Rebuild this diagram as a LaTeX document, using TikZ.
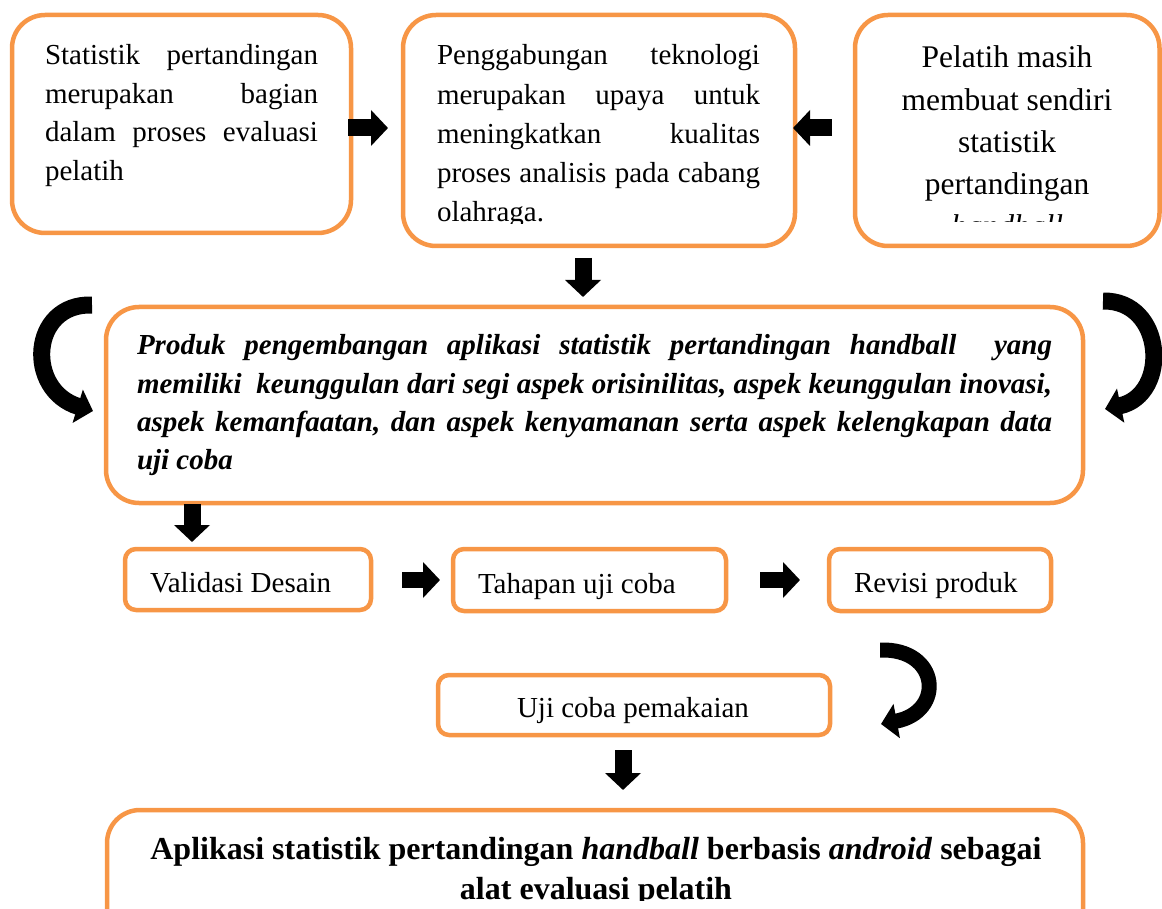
\documentclass[tikz,border=0pt]{standalone}
\usepackage{fontspec}
\setmainfont{Liberation Serif}
\usetikzlibrary{arrows.meta}
\definecolor{boxorange}{HTML}{F79646}
\newcommand{\jsp}{\hskip 0.25em plus 1fil minus 0.08em}
\tikzset{
  box/.style={draw=boxorange, line width=4.5pt, rounded corners=33pt, inner sep=0pt, fill=white},
  smallbox/.style={box, rounded corners=11pt},
  blockarrow/.style={line width=17pt, -{Triangle[length=17pt,width=35pt]}},
  curvearrow/.style={line width=17pt, -{Triangle[length=16pt,width=34pt]}},
  txt/.style={inner sep=0pt, outer sep=0pt, anchor=base west, font=\fontsize{29}{38.5}\selectfont}
}
\begin{document}
\begin{tikzpicture}[x=1pt,y=-1pt]
\useasboundingbox (0,0) rectangle (1162,909);

% boxes
\node[box, minimum width=339pt, minimum height=218pt] (b1) at (181.5,124) {};
\node[box, minimum width=392pt, minimum height=231pt] (b2) at (599,130.5) {};
\node[box, minimum width=304.5pt, minimum height=231pt] (b3) at (1007.25,130.5) {};
\node[box, minimum width=977pt, minimum height=196pt] (main) at (594.5,405) {};
\node[smallbox, minimum width=246pt, minimum height=61pt] (val) at (248,579.5) {};
\node[smallbox, minimum width=273pt, minimum height=62pt] (tah) at (589.5,580) {};
\node[smallbox, minimum width=222pt, minimum height=62pt] (rev) at (940,580) {};
\node[smallbox, minimum width=392pt, minimum height=60pt] (uji) at (634,705) {};
\node[box, minimum width=976pt, minimum height=150pt] (fin) at (595,885) {};

% texts
\node[txt] (t1) at (45,65) {\vtop{%
  \hbox to 273pt{Statistik\jsp pertandingan}
  \hbox to 273pt{merupakan\jsp bagian}
  \hbox to 273pt{dalam\jsp proses\jsp evaluasi}
  \hbox{pelatih}}};

\begin{scope}
\clip (400,0) rectangle (800,224);
\node[txt, font=\fontsize{29}{39.2}\selectfont] (t2) at (437,65) {\vtop{%
  \hbox to 323pt{Penggabungan\jsp teknologi}
  \hbox to 323pt{merupakan\jsp upaya\jsp untuk}
  \hbox to 323pt{meningkatkan\jsp kualitas}
  \hbox to 323pt{proses\jsp analisis\jsp pada\jsp cabang}
  \hbox{olahraga.}}};
\end{scope}

\begin{scope}
\clip (850,0) rectangle (1162,222);
\node[txt, anchor=base, font=\fontsize{31.5}{42.25}\selectfont] (t3) at (1007,68) {\vtop{%
  \hbox to 290pt{\hfil Pelatih masih\hfil}
  \hbox to 290pt{\hfil membuat sendiri\hfil}
  \hbox to 290pt{\hfil statistik\hfil}
  \hbox to 290pt{\hfil pertandingan\hfil}
  \hbox to 290pt{\hfil\itshape handball\hfil}}};
\end{scope}

\node[txt, font=\fontsize{29}{38.3}\selectfont\bfseries\itshape] (tm) at (137,355) {\vtop{%
  \hbox to 915pt{Produk\jsp pengembangan\jsp aplikasi\jsp statistik\jsp pertandingan\jsp handball\jsp\jsp yang}
  \hbox to 915pt{memiliki\jsp\jsp keunggulan\jsp dari\jsp segi\jsp aspek\jsp orisinilitas,\jsp aspek\jsp keunggulan\jsp inovasi,}
  \hbox to 915pt{aspek\jsp kemanfaatan,\jsp dan\jsp aspek\jsp kenyamanan\jsp serta\jsp aspek\jsp kelengkapan\jsp data}
  \hbox{uji coba}}};

\node[txt] (tval) at (150,592) {Validasi Desain};
\node[txt] (ttah) at (478,593) {Tahapan uji coba};
\node[txt] (trev) at (854,592) {Revisi produk};
\node[txt, anchor=base] (tuji) at (633,717) {Uji coba pemakaian};

\begin{scope}
\clip (100,800) rectangle (1100,900);
\node[txt, anchor=base, font=\fontsize{32}{40}\selectfont\bfseries] (tfin) at (596,859) {\vtop{%
  \hbox to 960pt{\hfil Aplikasi statistik pertandingan \textit{handball} berbasis \textit{android} sebagai\hfil}
  \hbox to 960pt{\hfil alat evaluasi pelatih\hfil}}};
\end{scope}

% block arrows
\coordinate (a1s) at (348,128); \coordinate (a1e) at (388,128);
\coordinate (a2s) at (832,128); \coordinate (a2e) at (793,128);
\coordinate (a3s) at (583,258); \coordinate (a3e) at (583,297);
\coordinate (a4s) at (192,504); \coordinate (a4e) at (192,542);
\coordinate (a5s) at (402,580); \coordinate (a5e) at (440,580);
\coordinate (a6s) at (760,580); \coordinate (a6e) at (800,580);
\coordinate (a7s) at (623,750); \coordinate (a7e) at (623,790);
\draw[blockarrow] (a1s) -- (a1e);
\draw[blockarrow] (a2s) -- (a2e);
\draw[blockarrow] (a3s) -- (a3e);
\draw[blockarrow] (a4s) -- (a4e);
\draw[blockarrow, line width=16pt] (a5s) -- (a5e);
\draw[blockarrow, line width=16pt] (a6s) -- (a6e);
\draw[blockarrow] (a7s) -- (a7e);

% curved arrows
\coordinate (c1s) at (92,305); \coordinate (c1e) at (93,411);
\coordinate (c2s) at (1103,301); \coordinate (c2e) at (1105,409);
\coordinate (c3s) at (880,650); \coordinate (c3e) at (881,724);
\draw[curvearrow] (c1s) .. controls (30,303) and (25,390) .. (c1e);
\draw[curvearrow] (c2s) .. controls (1165,300) and (1170,395) .. (c2e);
\draw[curvearrow, line width=15pt] (c3s) .. controls (940,648) and (945,712) .. (c3e);
\end{tikzpicture}
\end{document}
